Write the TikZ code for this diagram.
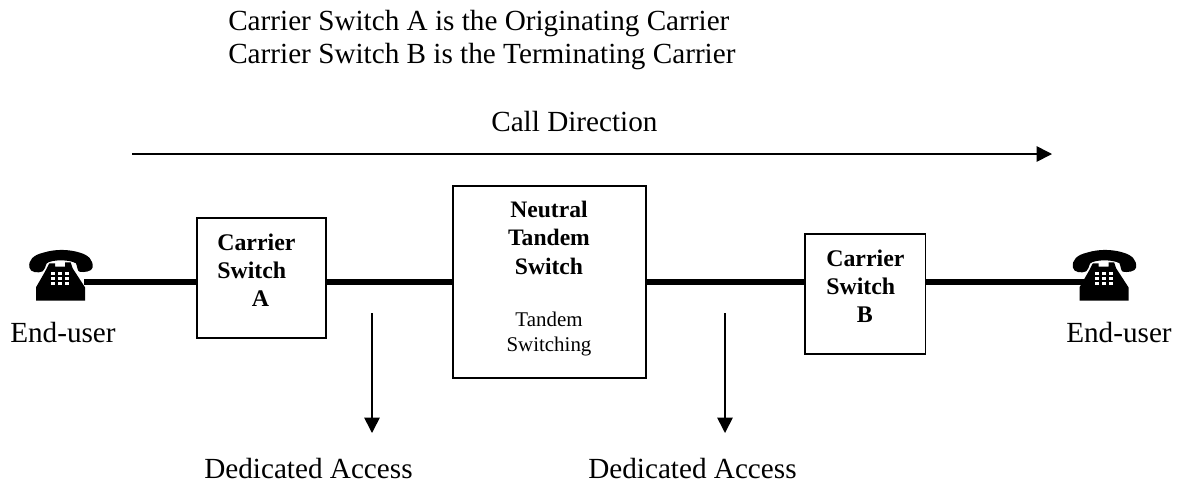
\documentclass[tikz,border=0pt]{standalone}
\usepackage{fontspec}
\setmainfont{Liberation Serif}
\usetikzlibrary{arrows.meta}
\tikzset{
  switchbox/.style={draw=black,line width=1.35pt,fill=white,inner sep=0pt,minimum width=#1,anchor=north west},
  trunk/.style={line width=4.5pt},
  thinarrow/.style={line width=1.2pt,-{Triangle[length=11.5pt,width=11.5pt]}},
  lbl/.style={inner sep=0pt,font=\fontsize{21.9pt}{24pt}\selectfont,anchor=base west},
  blbl/.style={inner sep=0pt,font=\fontsize{17.9pt}{21pt}\selectfont\bfseries,align=left,anchor=north west},
  phone/.pic={
    \begin{scope}[x=0.25pt,y=-0.25pt]
    \fill[black] (88,112) .. controls (85,90) and (100,75) .. (130,68)
      .. controls (165,57) and (205,57) .. (240,68)
      .. controls (265,75) and (280,90) .. (278,112)
      .. controls (277,125) and (250,128) .. (238,125)
      .. controls (232,122) and (232,110) .. (228,100)
      .. controls (210,88) and (155,88) .. (140,100)
      .. controls (135,110) and (135,120) .. (128,124)
      .. controls (115,130) and (90,128) .. (88,112) -- cycle;
    \fill[black] (148,100) -- (165,100) -- (165,110) -- (195,110) -- (195,97) -- (212,97)
      -- (218,115) -- (255,172) -- (255,212) -- (108,212) -- (108,172) -- (135,125) -- cycle;
    \foreach \kx in {153,174,195} \foreach \ky in {127,142,157}
      \fill[white] (\kx,\ky) rectangle ++(13,9);
    \end{scope}
  }
}
\begin{document}
\begin{tikzpicture}[x=0.75pt,y=-0.75pt]
\useasboundingbox (0,0) rectangle (1177,483);
\coordinate (lineL) at (84,281.5);
\coordinate (lineR) at (1086,281.5);
\node[switchbox=129*0.75pt,minimum height=90pt] (a) at (196,217) {};
\node[switchbox=193*0.75pt,minimum height=144pt] (n) at (452,185) {};
\node[switchbox=120.5*0.75pt,minimum height=90pt] (b) at (804,233) {};
\draw[trunk] (lineL) -- (lineL -| a.west);
\draw[trunk] (lineL -| a.east) -- (lineL -| n.west);
\draw[trunk] (lineL -| n.east) -- (lineL -| b.west);
\draw[trunk] (lineL -| b.east) -- (lineR);
\pic at (0,230) {phone};
\pic at (1043.5,230) {phone};
\coordinate (dirS) at (132,154);
\coordinate (dirE) at (1052,154);
\draw[thinarrow] (dirS) -- (dirE);
\coordinate (d1s) at (372,313);
\coordinate (d1e) at (372,433);
\coordinate (d2s) at (725,313);
\coordinate (d2e) at (725,433);
\draw[thinarrow] (d1s) -- (d1e);
\draw[thinarrow] (d2s) -- (d2e);
\node[lbl] (t1) at (228,30) {Carrier Switch A is the Originating Carrier};
\node[lbl] (t2) at (228,63) {Carrier Switch B is the Terminating Carrier};
\node[lbl] (cd) at (491,131) {Call Direction};
\node[lbl] (e1) at (10,342) {End-user};
\node[lbl] (e2) at (1066,342) {End-user};
\node[lbl] (da1) at (204,478) {Dedicated Access};
\node[lbl] (da2) at (588,478) {Dedicated Access};
\node[blbl] (ta) at (217,234) {Carrier\\Switch\\\hspace*{26pt}A};
\node[blbl] (tb) at (826,250) {Carrier\\Switch\\\hspace*{23pt}B};
\node[inner sep=0pt,align=center,font=\fontsize{17.7pt}{21.2pt}\selectfont\bfseries,anchor=north] (tn) at (549,201) {Neutral\\Tandem\\Switch};
\node[inner sep=0pt,align=center,font=\fontsize{15.7pt}{18.8pt}\selectfont,anchor=north] (ts) at (549,312) {Tandem\\Switching};
\end{tikzpicture}
\end{document}
